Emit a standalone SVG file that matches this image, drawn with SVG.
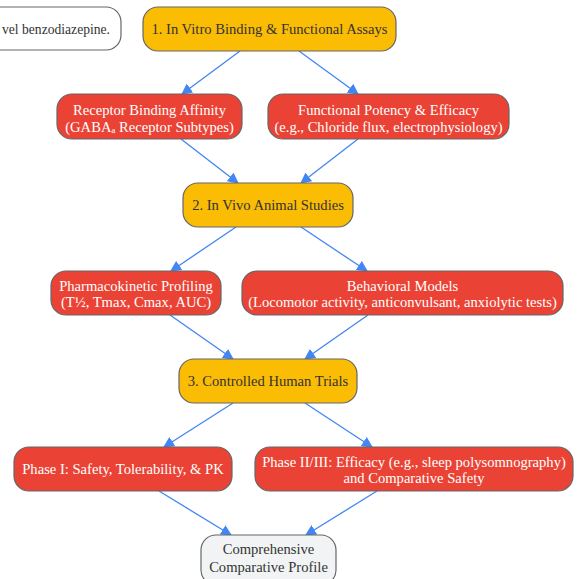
<svg xmlns="http://www.w3.org/2000/svg" width="580" height="579" viewBox="0 0 580 579">
<defs>
<marker id="arr" viewBox="0 0 10 10" refX="9" refY="5" markerWidth="11" markerHeight="11" markerUnits="userSpaceOnUse" orient="auto">
<path d="M0,0 L10,5 L0,10 z" fill="#4285F4"/>
</marker>
<style>
.n rect{stroke:#666;stroke-width:1.2}
.y rect{fill:#FBBC04}
.r rect{fill:#EA4335}
.w rect{fill:#FFFFFF}
.g rect{fill:#F1F3F4}
text{font-family:"Liberation Serif","Times New Roman",serif;font-size:14.6px;text-anchor:middle;dominant-baseline:central}
.r text{fill:#FFFFFF}
.y text,.w text,.g text{fill:#333333}
.e line{stroke:#4285F4;stroke-width:1.3;marker-end:url(#arr)}
</style>
</defs>
<rect width="580" height="579" fill="#FFFFFF"/>
<g class="e" id="edges">
<line x1="240" y1="51" x2="182" y2="94"/>
<line x1="299" y1="51" x2="358" y2="94"/>
<line x1="181" y1="139" x2="238" y2="183"/>
<line x1="358" y1="139" x2="301" y2="183"/>
<line x1="236" y1="227" x2="171" y2="271"/>
<line x1="301" y1="227" x2="367" y2="271"/>
<line x1="170" y1="315" x2="233" y2="359"/>
<line x1="368" y1="315" x2="305" y2="359"/>
<line x1="233" y1="403" x2="164" y2="447"/>
<line x1="305" y1="403" x2="372" y2="447"/>
<line x1="159" y1="491" x2="231" y2="535"/>
<line x1="377" y1="491" x2="306" y2="535"/>
</g>
<g id="start" class="n w">
<rect x="-120" y="7" width="241" height="43" rx="15"/>
<text x="2" y="29" style="text-anchor:start" textLength="108" lengthAdjust="spacingAndGlyphs">vel benzodiazepine.</text>
</g>
<g id="invitro" class="n y">
<rect x="143" y="7" width="253" height="44" rx="15"/>
<text x="269.5" y="29">1. In Vitro Binding &amp; Functional Assays</text>
</g>
<g id="binding" class="n r">
<rect x="57" y="94" width="185" height="45" rx="15"/>
<text x="149.5" y="110">Receptor Binding Affinity</text>
<text x="149.5" y="127">(GABAₐ Receptor Subtypes)</text>
</g>
<g id="functional" class="n r">
<rect x="268" y="94" width="241" height="45" rx="15"/>
<text x="388.5" y="110">Functional Potency &amp; Efficacy</text>
<text x="388.5" y="127">(e.g., Chloride flux, electrophysiology)</text>
</g>
<g id="invivo" class="n y">
<rect x="183" y="183" width="170" height="44" rx="15"/>
<text x="268" y="205">2. In Vivo Animal Studies</text>
</g>
<g id="pk" class="n r">
<rect x="51" y="271" width="170" height="44" rx="15"/>
<text x="136" y="286">Pharmacokinetic Profiling</text>
<text x="136" y="302">(T½, Tmax, Cmax, AUC)</text>
</g>
<g id="behavioral" class="n r">
<rect x="242" y="271" width="321" height="44" rx="15"/>
<text x="402.5" y="286">Behavioral Models</text>
<text x="402.5" y="302">(Locomotor activity, anticonvulsant, anxiolytic tests)</text>
</g>
<g id="human" class="n y">
<rect x="179" y="359" width="178" height="44" rx="15"/>
<text x="268" y="381">3. Controlled Human Trials</text>
</g>
<g id="phase1" class="n r">
<rect x="14" y="447" width="218" height="44" rx="15"/>
<text x="123" y="469">Phase I: Safety, Tolerability, &amp; PK</text>
</g>
<g id="phase23" class="n r">
<rect x="255" y="447" width="318" height="44" rx="15"/>
<text x="414" y="462">Phase II/III: Efficacy (e.g., sleep polysomnography)</text>
<text x="414" y="478">and Comparative Safety</text>
</g>
<g id="profile" class="n g">
<rect x="201" y="535" width="135" height="50" rx="15"/>
<text x="268.5" y="549">Comprehensive</text>
<text x="268.5" y="567">Comparative Profile</text>
</g>
</svg>
